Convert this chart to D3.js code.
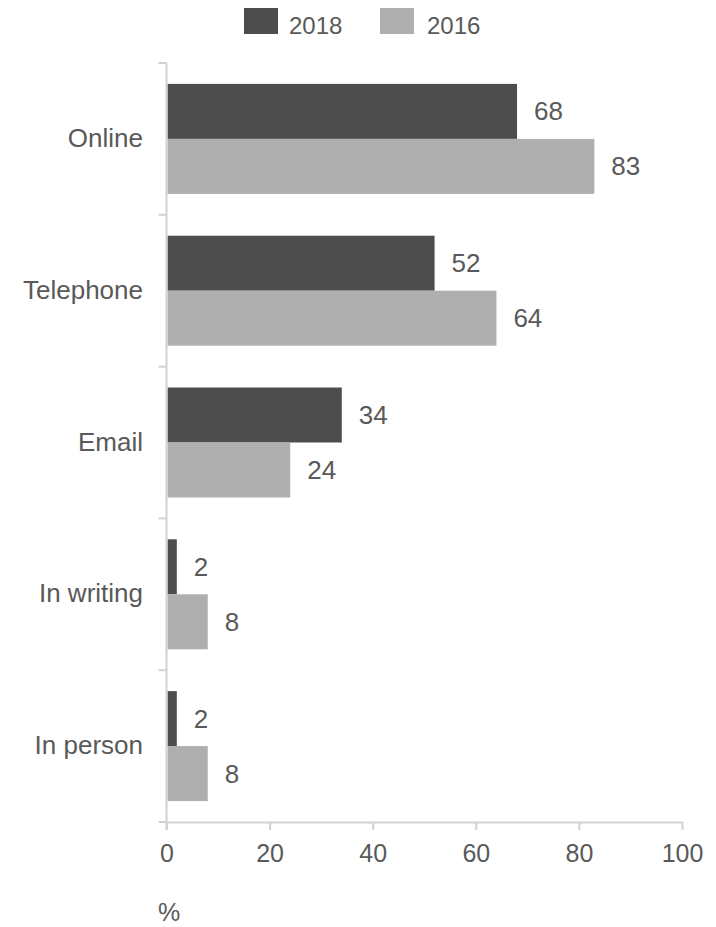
<!DOCTYPE html>
<html>
<head>
<meta charset="utf-8">
<script src="https://cdn.jsdelivr.net/npm/d3@7/dist/d3.min.js"></script>
<style>
  html, body { margin: 0; padding: 0; background: #fff; }
  svg text { font-family: "Liberation Sans", Arial, sans-serif; fill: #595959; }
</style>
</head>
<body>
<svg id="chart" width="716" height="927"></svg>
<script>
// Contact channels, share of respondents (%)
const categories = ["Online", "Telephone", "Email", "In writing", "In person"];
const seriesNames = ["2018", "2016"];
const values2018 = [68, 52, 34, 2, 2];
const values2016 = [83, 64, 24, 8, 8];
const xTicks = [0, 20, 40, 60, 80, 100];

const seriesValues = { "2018": values2018, "2016": values2016 };
const colors = { "2018": "#4d4d4d", "2016": "#afafaf" };
const axisColor = "#d2d2d2";

const svg = d3.select("#chart");
const plotLeft = 166.5, plotRight = 682, plotTop = 63, plotBottom = 822;

const x = d3.scaleLinear().domain([0, 100]).range([plotLeft, plotRight]);
const y = d3.scaleBand().domain(categories).range([plotTop, plotBottom])
  .paddingInner(0.2754).paddingOuter(0.1377);
const ySub = d3.scaleBand().domain(seriesNames).range([0, y.bandwidth()]);

// Bars
const groups = svg.append("g").selectAll("g")
  .data(categories).join("g")
  .attr("transform", d => `translate(0,${y(d)})`);

seriesNames.forEach(s => {
  groups.append("rect")
    .attr("x", x(0) + 1)
    .attr("y", ySub(s))
    .attr("width", (d, i) => x(seriesValues[s][i]) - x(0) - 1)
    .attr("height", ySub.bandwidth())
    .attr("fill", colors[s]);
  groups.append("text")
    .attr("x", (d, i) => x(seriesValues[s][i]) + 17)
    .attr("y", ySub(s) + ySub.bandwidth() / 2)
    .attr("dominant-baseline", "central")
    .attr("font-size", 26)
    .text((d, i) => seriesValues[s][i]);
});

// Vertical category axis with boundary ticks
svg.append("line")
  .attr("x1", plotLeft).attr("x2", plotLeft)
  .attr("y1", plotTop).attr("y2", plotBottom + 8)
  .attr("stroke", axisColor).attr("stroke-width", 2);
const boundaries = categories.map(c => y(c) - y.step() * y.paddingInner() / 2)
  .concat([plotBottom]);
svg.append("g").selectAll("line").data(boundaries).join("line")
  .attr("x1", plotLeft - 8).attr("x2", plotLeft)
  .attr("y1", d => d).attr("y2", d => d)
  .attr("stroke", axisColor).attr("stroke-width", 2);
svg.append("g").selectAll("text").data(categories).join("text")
  .attr("x", 143)
  .attr("y", d => y(d) + y.bandwidth() / 2 - 1)
  .attr("text-anchor", "end")
  .attr("dominant-baseline", "central")
  .attr("font-size", 26)
  .text(d => d);

// Horizontal value axis
const xAxis = svg.append("g")
  .attr("transform", `translate(0,${plotBottom})`)
  .call(d3.axisBottom(x).tickValues(xTicks).tickSize(8).tickSizeOuter(0).tickPadding(14));
xAxis.select(".domain").attr("stroke", axisColor).attr("stroke-width", 2);
xAxis.selectAll(".tick line").attr("stroke", axisColor).attr("stroke-width", 2);
xAxis.selectAll(".tick text")
  .attr("font-size", 25)
  .attr("font-family", "Liberation Sans, Arial, sans-serif")
  .attr("fill", "#595959")
  .attr("dy", "0.71em");

svg.append("text")
  .attr("x", 158).attr("y", 921)
  .attr("font-size", 25)
  .text("%");

// Legend
const legendItems = [
  { name: "2018", sx: 244, tx: 289 },
  { name: "2016", sx: 380, tx: 427 }
];
const legend = svg.append("g").selectAll("g").data(legendItems).join("g");
legend.append("rect")
  .attr("x", d => d.sx).attr("y", 8)
  .attr("width", 34).attr("height", 26)
  .attr("fill", d => colors[d.name]);
legend.append("text")
  .attr("x", d => d.tx).attr("y", 34)
  .attr("font-size", 24)
  .text(d => d.name);
</script>
</body>
</html>
